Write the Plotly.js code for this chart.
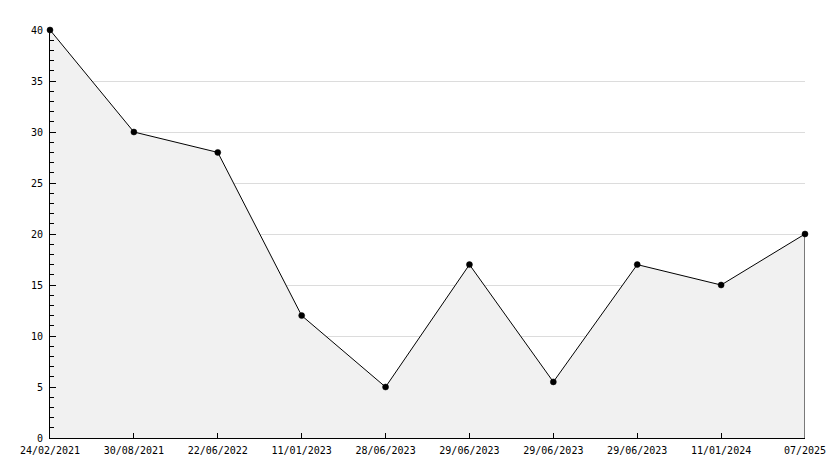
<!DOCTYPE html>
<html>
<head>
<meta charset="utf-8">
<script src="https://cdn.plot.ly/plotly-3.0.1.min.js"></script>
<style>html,body{margin:0;padding:0;background:#fff;}#chart{width:834px;height:468px;}</style>
</head>
<body>
<div id="chart"></div>
<script>
const dateLabels = ["24/02/2021","30/08/2021","22/06/2022","11/01/2023","28/06/2023","29/06/2023","29/06/2023","29/06/2023","11/01/2024","07/2025"];
const values = [40, 30, 28, 12, 5, 17, 5.5, 17, 15, 20];
const positions = dateLabels.map((_, i) => i);

const lastX = positions[positions.length - 1];
const fillTrace = {
  x: positions.concat([lastX]),
  y: values.concat([0]),
  type: 'scatter',
  mode: 'lines',
  line: {color: '#000', width: 1},
  fill: 'tozeroy',
  fillcolor: '#f1f1f1',
  hoverinfo: 'skip'
};
const markerTrace = {
  x: positions,
  y: values,
  type: 'scatter',
  mode: 'markers',
  cliponaxis: false,
  marker: {symbol: 'circle', size: 6, color: '#000', line: {width: 0.5, color: '#000'}},
  hoverinfo: 'skip'
};

const font = {family: 'DejaVu Sans Mono, monospace', size: 10, color: '#000'};
const layout = {
  width: 834, height: 468,
  margin: {l: 50, r: 29, t: 30, b: 30, pad: 0},
  paper_bgcolor: '#fff', plot_bgcolor: '#fff',
  showlegend: false,
  font: font,
  xaxis: {
    range: [0, lastX],
    tickmode: 'array', tickvals: positions, ticktext: dateLabels,
    ticks: 'inside', ticklen: 5, tickcolor: '#000', tickwidth: 1,
    ticklabelstandoff: 3,
    showgrid: false, zeroline: false,
    showline: true, linecolor: '#000', linewidth: 1,
    tickfont: font, fixedrange: true
  },
  yaxis: {
    range: [0, 40],
    tickmode: 'linear', tick0: 0, dtick: 5,
    ticks: 'inside', ticklen: 6, tickcolor: '#000', tickwidth: 1,
    ticklabelstandoff: 4,
    minor: {dtick: 1, ticks: 'inside', ticklen: 4, tickcolor: '#000', showgrid: false},
    showgrid: true, gridcolor: '#dcdcdc', gridwidth: 1,
    zeroline: false,
    showline: true, linecolor: '#000', linewidth: 1,
    tickfont: font, fixedrange: true
  }
};
Plotly.newPlot('chart', [fillTrace, markerTrace], layout, {displayModeBar: false, staticPlot: true});
</script>
</body>
</html>
